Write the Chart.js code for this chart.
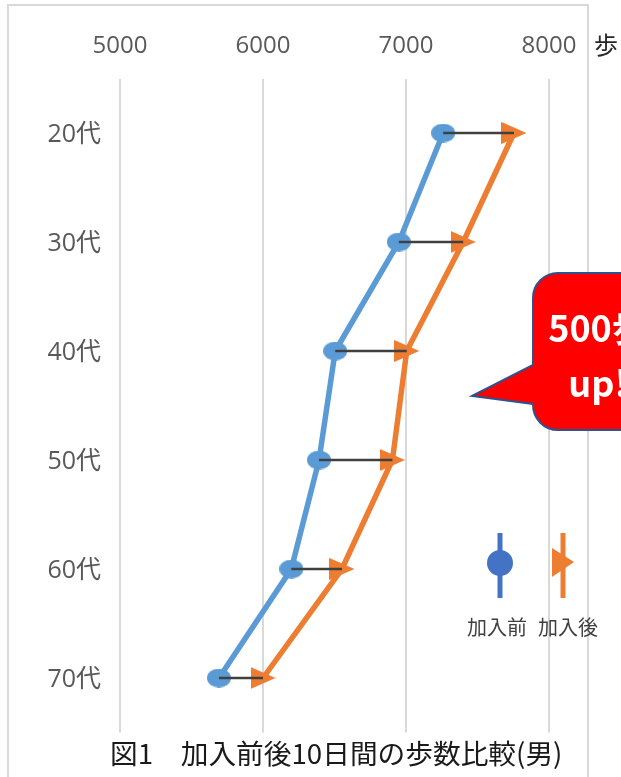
<!DOCTYPE html>
<html>
<head>
<meta charset="utf-8">
<script src="https://cdn.jsdelivr.net/npm/chart.js@4"></script>
<style>
  html, body { margin: 0; padding: 0; background: #ffffff; }
  #wrap { width: 621px; height: 777px; position: relative; }
</style>
</head>
<body>
<div id="wrap"><canvas id="c" width="621" height="777"></canvas></div>
<script>
// ---- data ----
const categories = ['20代', '30代', '40代', '50代', '60代', '70代'];
const beforeSteps = [7260, 6950, 6505, 6392, 6198, 5692];
const afterSteps = [7755, 7400, 7005, 6905, 6552, 6000];
const xTicks = [5000, 6000, 7000, 8000];
const legendLabels = ['加入前', '加入後'];
const unitLabel = '歩';
const calloutLines = ['500歩', 'up!'];
const titleText = '図1　加入前後10日間の歩数比較(男)';

// ---- marker images ----
function makeEllipse(w, h, color) {
  const c = document.createElement('canvas');
  c.width = w; c.height = h;
  const g = c.getContext('2d');
  g.fillStyle = color;
  g.beginPath();
  g.ellipse(w / 2, h / 2, w / 2, h / 2, 0, 0, Math.PI * 2);
  g.fill();
  return c;
}
function makeTriangle(w, h, color) {
  const c = document.createElement('canvas');
  c.width = w; c.height = h;
  const g = c.getContext('2d');
  g.fillStyle = color;
  g.beginPath();
  g.moveTo(0, 0);
  g.lineTo(w, h / 2);
  g.lineTo(0, h);
  g.closePath();
  g.fill();
  return c;
}
const blueMarker = makeEllipse(24, 19, '#5b9bd5');
const orangeMarker = makeTriangle(25, 22, '#ed7d31');

const connectorSets = categories.map((cat, i) => ({
  type: 'line',
  data: [{ x: beforeSteps[i], y: cat }, { x: afterSteps[i], y: cat }],
  borderColor: '#404040',
  borderWidth: 2.5,
  pointRadius: 0,
  order: 0
}));

const overlay = {
  id: 'overlay',
  beforeDraw(chart) {
    const ctx = chart.ctx;
    ctx.save();
    ctx.fillStyle = '#ffffff';
    ctx.fillRect(0, 0, chart.width, chart.height);
    ctx.strokeStyle = '#d9d9d9';
    ctx.lineWidth = 2;
    ctx.beginPath();
    ctx.moveTo(8, 777);
    ctx.lineTo(8, 5);
    ctx.lineTo(588, 5);
    ctx.lineTo(588, 777);
    ctx.stroke();
    ctx.restore();
  },
  afterDraw(chart) {
    const ctx = chart.ctx;
    ctx.save();
    // unit label
    ctx.fillStyle = '#262626';
    ctx.font = '24px "Noto Sans CJK JP", sans-serif';
    ctx.textAlign = 'center';
    ctx.textBaseline = 'middle';
    ctx.fillText(unitLabel, 606, 45);

    // callout
    const L = 533, T = 273, R = 660, B = 430, r = 25;
    ctx.beginPath();
    ctx.moveTo(L + r, T);
    ctx.lineTo(R - r, T);
    ctx.arcTo(R, T, R, T + r, r);
    ctx.lineTo(R, B - r);
    ctx.arcTo(R, B, R - r, B, r);
    ctx.lineTo(L + r, B);
    ctx.arcTo(L, B, L, B - r, r);
    ctx.lineTo(L, 404);
    ctx.lineTo(472, 396);
    ctx.lineTo(L, 365);
    ctx.lineTo(L, T + r);
    ctx.arcTo(L, T, L + r, T, r);
    ctx.closePath();
    ctx.fillStyle = '#ff0000';
    ctx.fill();
    ctx.strokeStyle = '#2f528f';
    ctx.lineWidth = 2;
    ctx.stroke();
    ctx.fillStyle = '#ffffff';
    ctx.font = 'bold 36px "Noto Sans CJK JP", sans-serif';
    ctx.textAlign = 'center';
    ctx.textBaseline = 'middle';
    ctx.fillText(calloutLines[0], 598, 328);
    ctx.fillText(calloutLines[1], 598, 383);

    // legend
    ctx.lineWidth = 5;
    ctx.strokeStyle = '#4472c4';
    ctx.beginPath(); ctx.moveTo(500, 533); ctx.lineTo(500, 598); ctx.stroke();
    ctx.fillStyle = '#4472c4';
    ctx.beginPath(); ctx.arc(500, 563, 13, 0, Math.PI * 2); ctx.fill();
    ctx.strokeStyle = '#ed7d31';
    ctx.beginPath(); ctx.moveTo(563, 533); ctx.lineTo(563, 598); ctx.stroke();
    ctx.fillStyle = '#ed7d31';
    ctx.beginPath(); ctx.moveTo(552, 548); ctx.lineTo(574, 562); ctx.lineTo(552, 577); ctx.closePath(); ctx.fill();
    ctx.fillStyle = '#404040';
    ctx.font = '20px "Noto Sans CJK JP", sans-serif';
    ctx.fillText(legendLabels[0], 497, 627);
    ctx.fillText(legendLabels[1], 568, 627);

    // title
    ctx.fillStyle = '#1a1a1a';
    ctx.font = '27.7px "Noto Sans CJK JP", sans-serif';
    ctx.textAlign = 'left';
    ctx.fillText(titleText, 110, 753);
    ctx.restore();
  }
};

new Chart(document.getElementById('c'), {
  type: 'line',
  data: {
    labels: categories,
    datasets: [
      ...connectorSets,
      {
        label: legendLabels[1],
        data: afterSteps,
        borderColor: '#ed7d31',
        borderWidth: 5.5,
        pointStyle: orangeMarker,
        pointRadius: 12,
        order: 1
      },
      {
        label: legendLabels[0],
        data: beforeSteps,
        borderColor: '#5b9bd5',
        borderWidth: 5.5,
        pointStyle: blueMarker,
        pointRadius: 12,
        order: 2
      }
    ]
  },
  options: {
    indexAxis: 'y',
    responsive: false,
    animation: false,
    events: [],
    layout: { padding: { left: 0, top: 0, right: 36.25, bottom: 44.5 } },
    plugins: { legend: { display: false }, tooltip: { enabled: false }, title: { display: false } },
    scales: {
      x: {
        type: 'linear',
        position: 'top',
        min: 5000,
        max: 8250,
        afterBuildTicks: (axis) => { axis.ticks = xTicks.map(v => ({ value: v })); },
        afterFit: (axis) => { axis.height = 78.5; },
        grid: { color: '#d9d9d9', lineWidth: 2, drawTicks: false },
        border: { display: false },
        ticks: {
          color: '#595959',
          font: { family: '"Open Sans", "Noto Sans CJK JP", sans-serif', size: 24 },
          padding: 18,
          maxRotation: 0,
          callback: (v) => String(v)
        }
      },
      y: {
        type: 'category',
        offset: true,
        afterFit: (axis) => { axis.width = 120; },
        grid: { display: false, drawTicks: false },
        border: { display: false },
        ticks: {
          color: '#595959',
          font: { family: '"Open Sans", "Noto Sans CJK JP", sans-serif', size: 25 },
          padding: 19,
          labelOffset: 2
        }
      }
    }
  },
  plugins: [overlay]
});
</script>
</body>
</html>
